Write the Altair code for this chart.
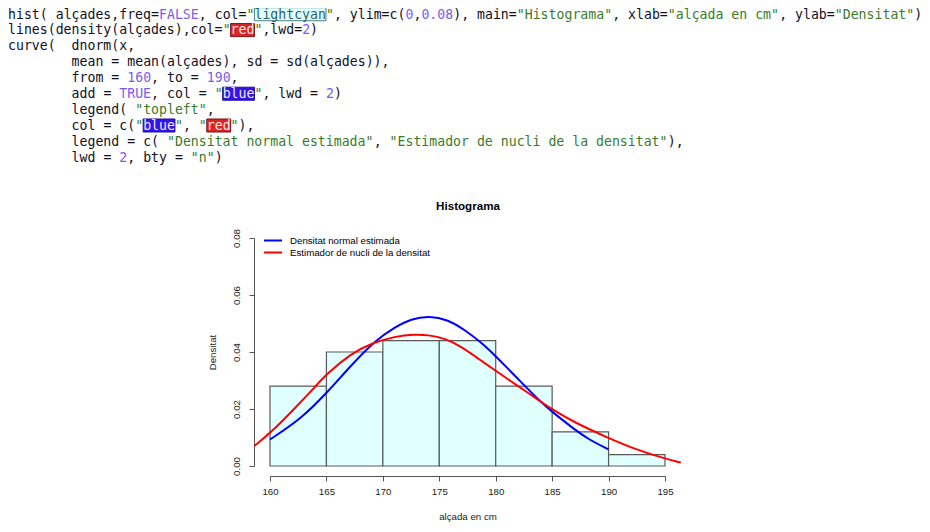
import re
import altair as alt
import pandas as pd

# ---------------- data ----------------
CODE_LINES = [
    'hist( alçades,freq=FALSE, col="lightcyan", ylim=c(0,0.08), main="Histograma", xlab="alçada en cm", ylab="Densitat")',
    'lines(density(alçades),col="red",lwd=2)',
    'curve(  dnorm(x,',
    '        mean = mean(alçades), sd = sd(alçades)),',
    '        from = 160, to = 190,',
    '        add = TRUE, col = "blue", lwd = 2)',
    '        legend( "topleft",',
    '        col = c("blue", "red"),',
    '        legend = c( "Densitat normal estimada", "Estimador de nucli de la densitat"),',
    '        lwd = 2, bty = "n")',
]
HIGHLIGHT_WORDS = ["lightcyan", "red", "blue"]

BIN_START = [160, 165, 170, 175, 180, 185, 190]
BIN_END = [165, 170, 175, 180, 185, 190, 195]
DENSITY = [0.028, 0.040, 0.044, 0.044, 0.028, 0.012, 0.004]

NORMAL_X = [160.0, 162.8, 165.0, 167.2, 169.3, 171.1, 172.5, 174.1, 175.8, 177.2,
            178.9, 180.05, 181.4, 182.7, 183.8, 185.0, 186.7, 188.1, 190.0]
NORMAL_Y = [0.0093, 0.0167, 0.0255, 0.0354, 0.0440, 0.0488, 0.0516, 0.0527, 0.0513, 0.0479,
            0.0428, 0.0383, 0.0329, 0.0276, 0.0232, 0.0190, 0.0137, 0.0096, 0.0058]

KDE_X = [158.6, 160.15, 161.9, 164.0, 165.0, 167.2, 169.0, 171.1, 172.8, 174.0, 175.5, 177.0,
         178.4, 180.05, 181.4, 182.85, 183.9, 185.0, 187.0, 190.0, 192.6, 195.0, 196.4]
KDE_Y = [0.0070, 0.0120, 0.0190, 0.0278, 0.0322, 0.0395, 0.0431, 0.0455, 0.0462, 0.0460, 0.0448, 0.0418,
         0.0378, 0.0333, 0.0296, 0.0257, 0.0228, 0.0199, 0.0152, 0.0098, 0.0055, 0.0026, 0.0012]

X_TICKS = [160, 165, 170, 175, 180, 185, 190, 195]
Y_TICKS = [0.0, 0.02, 0.04, 0.06, 0.08]
SERIES = ["Densitat normal estimada", "Estimador de nucli de la densitat"]

# ---------------- layout / style ----------------
FONT = "Liberation Sans"
FONT_MONO = "DejaVu Sans Mono"
W, H = 395, 228
PAD = {"left": 262, "top": 230, "right": 257, "bottom": 58}
CHAR_W = 7.95
LINE_H = 15.9
FIRST_BASELINE = 10.5  # inside svg
TEXT_LEFT = 0

KINDS = ["plain", "string", "number", "hl_lightcyan", "hl_red", "hl_blue"]
KIND_COLORS = ["#10101e", "#3a7b28", "#7b5cf0", "#2f5f66", "#ffe8e8", "#ececff"]
BOX_KINDS = ["hl_lightcyan", "hl_red", "hl_blue"]
BOX_FILL = ["#e0ffff", "#d92626", "#3514ea"]
BOX_STROKE = ["#4f7f7f", "#7a1515", "#24108a"]

# ---------------- tokenize code ----------------
tok_re = re.compile(r'"[^"]*"|(?<![\w.])\d+(?:\.\d+)?|\b(?:TRUE|FALSE)\b')
tokens, boxes = [], []


def add_plain(seg, start, li):
    for r in re.finditer(r"\S+", seg):
        tokens.append({"line": li, "col": start + r.start(), "text": r.group(), "kind": "plain"})


for li, line in enumerate(CODE_LINES):
    pos = 0
    for m in tok_re.finditer(line):
        add_plain(line[pos:m.start()], pos, li)
        s = m.group()
        c = m.start()
        if s.startswith('"'):
            inner = s[1:-1]
            if inner in HIGHLIGHT_WORDS:
                k = "hl_" + inner
                tokens.append({"line": li, "col": c, "text": '"', "kind": "string"})
                tokens.append({"line": li, "col": c + 1, "text": inner, "kind": k})
                tokens.append({"line": li, "col": c + 1 + len(inner), "text": '"', "kind": "string"})
                boxes.append({"line": li, "c0": c + 1, "c1": c + 1 + len(inner),
                              "ytop": li - 0.68, "ybot": li + 0.14, "kind": k})
            else:
                tokens.append({"line": li, "col": c, "text": s, "kind": "string"})
        else:
            tokens.append({"line": li, "col": c, "text": s, "kind": "number"})
        pos = m.end()
    add_plain(line[pos:], pos, li)

tok_df = pd.DataFrame(tokens)
box_df = pd.DataFrame(boxes)

dx0 = (PAD["left"] - TEXT_LEFT) / CHAR_W
dy0 = (PAD["top"] - FIRST_BASELINE) / LINE_H
code_x_scale = alt.Scale(domain=[dx0, dx0 + W / CHAR_W], nice=False, zero=False)
code_y_scale = alt.Scale(domain=[dy0, dy0 + H / LINE_H], nice=False, zero=False, reverse=True)

top_axis = alt.Axis(orient="top", title="Histograma", labels=False, ticks=False, domain=False,
                    grid=False, titleFont=FONT, titleFontSize=11.6, titleFontWeight="bold",
                    titleColor="#000000", titlePadding=28.5, titleBaseline="alphabetic")

box_layer = alt.Chart(box_df).mark_rect(strokeWidth=1, clip=False).encode(
    x=alt.X("c0:Q", scale=code_x_scale, axis=top_axis),
    x2="c1:Q",
    y=alt.Y("ytop:Q", scale=code_y_scale, axis=None),
    y2="ybot:Q",
    fill=alt.Fill("kind:N", scale=alt.Scale(domain=BOX_KINDS, range=BOX_FILL), legend=None),
    stroke=alt.Stroke("kind:N", scale=alt.Scale(domain=BOX_KINDS, range=BOX_STROKE), legend=None),
)

text_layer = alt.Chart(tok_df).mark_text(font=FONT_MONO, fontSize=13.2, align="left",
                                          baseline="alphabetic", clip=False).encode(
    x=alt.X("col:Q", scale=code_x_scale, axis=top_axis),
    y=alt.Y("line:Q", scale=code_y_scale, axis=None),
    text="text:N",
    color=alt.Color("kind:N", scale=alt.Scale(domain=KINDS, range=KIND_COLORS), legend=None),
)

code_layer = alt.layer(box_layer, text_layer)

# ---------------- histogram ----------------
bar_df = pd.DataFrame({"start": BIN_START, "end": BIN_END, "dens": DENSITY})
curve_df = pd.concat([
    pd.DataFrame({"x": NORMAL_X, "y": NORMAL_Y, "series": SERIES[0]}),
    pd.DataFrame({"x": KDE_X, "y": KDE_Y, "series": SERIES[1]}),
])

x_scale = alt.Scale(domain=[160, 195], nice=False, zero=False)
y_scale = alt.Scale(domain=[0, 0.08], nice=False, zero=False)
x_axis = alt.Axis(orient="bottom", values=X_TICKS, offset=10, tickSize=5, labelPadding=5.5,
                  labelFlush=False, title="alçada en cm", titlePadding=15, grid=False)
y_axis = alt.Axis(orient="left", values=Y_TICKS, format=".2f", offset=16, tickSize=5,
                  labelAngle=270, labelAlign="center", labelBaseline="alphabetic",
                  labelPadding=10, labelFlush=False, title="Densitat", titlePadding=14, grid=False)

bars = alt.Chart(bar_df).mark_rect(fill="#e0ffff", stroke="#5a5a5a", strokeWidth=1.2).encode(
    x=alt.X("start:Q", scale=x_scale, axis=x_axis),
    x2="end:Q",
    y=alt.Y("dens:Q", scale=y_scale, axis=y_axis),
    y2=alt.datum(0),
)

curves = alt.Chart(curve_df).mark_line(strokeWidth=2, interpolate="basis", clip=False).encode(
    x=alt.X("x:Q", scale=x_scale, axis=x_axis),
    y=alt.Y("y:Q", scale=y_scale, axis=y_axis),
    color=alt.Color("series:N", scale=alt.Scale(domain=SERIES, range=["#0000ff", "#ff0000"]),
                    legend=alt.Legend(title=None, orient="none", legendX=-7, legendY=-3.5,
                                      symbolType="stroke", symbolSize=324, symbolStrokeWidth=2,
                                      labelFont=FONT, labelFontSize=9.7, labelColor="#000000",
                                      labelOffset=7, clipHeight=12, rowPadding=0, padding=0)),
)

hist_layer = alt.layer(bars, curves)

chart = alt.layer(code_layer, hist_layer).resolve_scale(
    x="independent", y="independent", color="independent"
).properties(
    width=W, height=H, padding=PAD, autosize=alt.AutoSizeParams(type="none"), background="white"
).configure_view(stroke="transparent").configure_axis(
    labelFont=FONT, titleFont=FONT, labelFontSize=9.7, titleFontSize=9.7,
    titleFontWeight="normal", labelColor="#222222", titleColor="#222222",
    domainColor="#555555", tickColor="#555555"
)

chart.save("out.html", embed_options={"renderer": "svg", "actions": False})
